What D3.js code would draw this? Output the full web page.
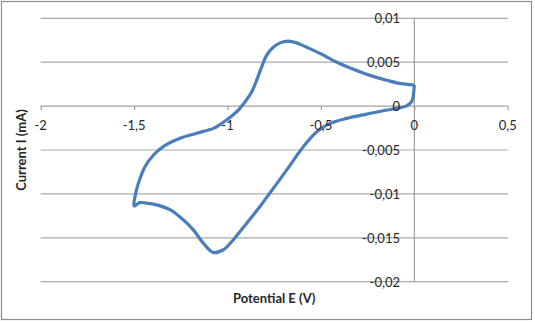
<!DOCTYPE html>
<html>
<head>
<meta charset="utf-8">
<script src="https://cdn.jsdelivr.net/npm/d3@7/dist/d3.min.js"></script>
<style>
  html, body { margin: 0; padding: 0; background: #fff; }
  svg { display: block; font-family: Lato, "Open Sans", sans-serif; }
</style>
</head>
<body>
<svg id="chart" width="535" height="322"></svg>
<script>
// Cyclic voltammogram: potential (V) and current (mA), one closed scan
const potential = [
  0, -0.077, -0.148, -0.237, -0.326, -0.415, -0.505, -0.576, -0.63, -0.674,
  -0.719, -0.755, -0.79, -0.817, -0.844, -0.87, -0.906, -0.942, -1.0, -1.04,
  -1.076, -1.165, -1.254, -1.344, -1.397, -1.442, -1.477, -1.495, -1.50,
  -1.47, -1.42, -1.379, -1.308, -1.237, -1.183, -1.13, -1.076, -1.022, -0.969,
  -0.897, -0.826, -0.773, -0.683, -0.594, -0.522, -0.451, -0.362, -0.255,
  -0.166, -0.094, -0.041, -0.014, -0.005, 0
];
const current = [
  0.0024, 0.00258, 0.00295, 0.0035, 0.0042, 0.0050, 0.0060, 0.0067, 0.0072, 0.0074,
  0.0072, 0.0067, 0.0058, 0.00447, 0.00295, 0.00163, 0.00049, -0.00045, -0.0015, -0.0021,
  -0.00254, -0.0031, -0.00367, -0.00462, -0.0056, -0.0069, -0.0088, -0.0103, -0.01136,
  -0.0110, -0.01108, -0.01125, -0.0118, -0.01295, -0.0141, -0.0156, -0.01667, -0.01636, -0.01523,
  -0.01333, -0.01144, -0.0099, -0.00727, -0.00462, -0.00292, -0.00197, -0.0014, -0.00091,
  -0.00053, -0.00026, 0.00003, 0.0005, 0.00125, 0.0024
];
const xTicks = [-2, -1.5, -1, -0.5, 0, 0.5];
const yTicks = [0.01, 0.005, 0, -0.005, -0.01, -0.015, -0.02];
const xTitle = "Potential E (V)";
const yTitle = "Current I (mA)";

const svg = d3.select("#chart");
const fmt = v => String(v).replace(".", ",");

const x = d3.scaleLinear().domain([-2, 0.5]).range([40.7, 507.7]);
const y = d3.scaleLinear().domain([-0.02, 0.01]).range([281.7, 18.3]);

// outer frame
svg.append("rect")
  .attr("x", 1.5).attr("y", 1.5).attr("width", 530).attr("height", 318)
  .attr("fill", "#fff").attr("stroke", "#8c8c8c").attr("stroke-width", 1.2);

// horizontal gridlines
svg.append("g").selectAll("line")
  .data(yTicks.filter(d => d !== 0))
  .join("line")
  .attr("x1", x(-2)).attr("x2", x(0.5))
  .attr("y1", d => y(d)).attr("y2", d => y(d))
  .attr("stroke", "#a9a9a9").attr("stroke-width", 1.2);

// x axis through zero current
const xAxis = d3.axisBottom(x).tickValues(xTicks).tickSize(4).tickFormat(() => "");
const gx = svg.append("g").attr("transform", `translate(0,${y(0)})`).call(xAxis);
gx.select(".domain").attr("stroke", "#8c8c8c").attr("d", `M${x(-2)},0H${x(0.5)}`);
gx.selectAll(".tick line").attr("stroke", "#8c8c8c");

// y axis through zero potential
svg.append("line")
  .attr("x1", x(0)).attr("x2", x(0))
  .attr("y1", y(0.01)).attr("y2", y(-0.02))
  .attr("stroke", "#8c8c8c").attr("stroke-width", 1);

// curve
const pts = potential.map((v, i) => [v, current[i]]);
const line = d3.line()
  .x(d => x(d[0])).y(d => y(d[1]))
  .curve(d3.curveCatmullRom.alpha(0.5));
svg.append("path")
  .datum(pts)
  .attr("d", line)
  .attr("fill", "none")
  .attr("stroke", "#4a7ebb")
  .attr("stroke-width", 3.2)
  .attr("stroke-linejoin", "round");

// tick labels
svg.append("g").selectAll("text")
  .data(xTicks)
  .join("text")
  .attr("x", d => x(d)).attr("y", 125)
  .attr("text-anchor", "middle").attr("dominant-baseline", "central")
  .attr("font-size", 13).attr("fill", "#262626")
  .text(fmt);

svg.append("g").selectAll("text")
  .data(yTicks)
  .join("text")
  .attr("x", 400).attr("y", d => y(d))
  .attr("text-anchor", "end").attr("dominant-baseline", "central")
  .attr("font-size", 13).attr("fill", "#262626")
  .text(fmt);

// axis titles
svg.append("text")
  .attr("x", (x(-2) + x(0.5)) / 2).attr("y", 298)
  .attr("text-anchor", "middle").attr("dominant-baseline", "central")
  .attr("font-size", 13).attr("font-weight", "bold").attr("fill", "#262626")
  .text(xTitle);

svg.append("text")
  .attr("transform", `translate(21,${(y(0.01) + y(-0.02)) / 2}) rotate(-90)`)
  .attr("text-anchor", "middle").attr("dominant-baseline", "central")
  .attr("font-size", 13).attr("font-weight", "bold").attr("fill", "#262626")
  .text(yTitle);
</script>
</body>
</html>
